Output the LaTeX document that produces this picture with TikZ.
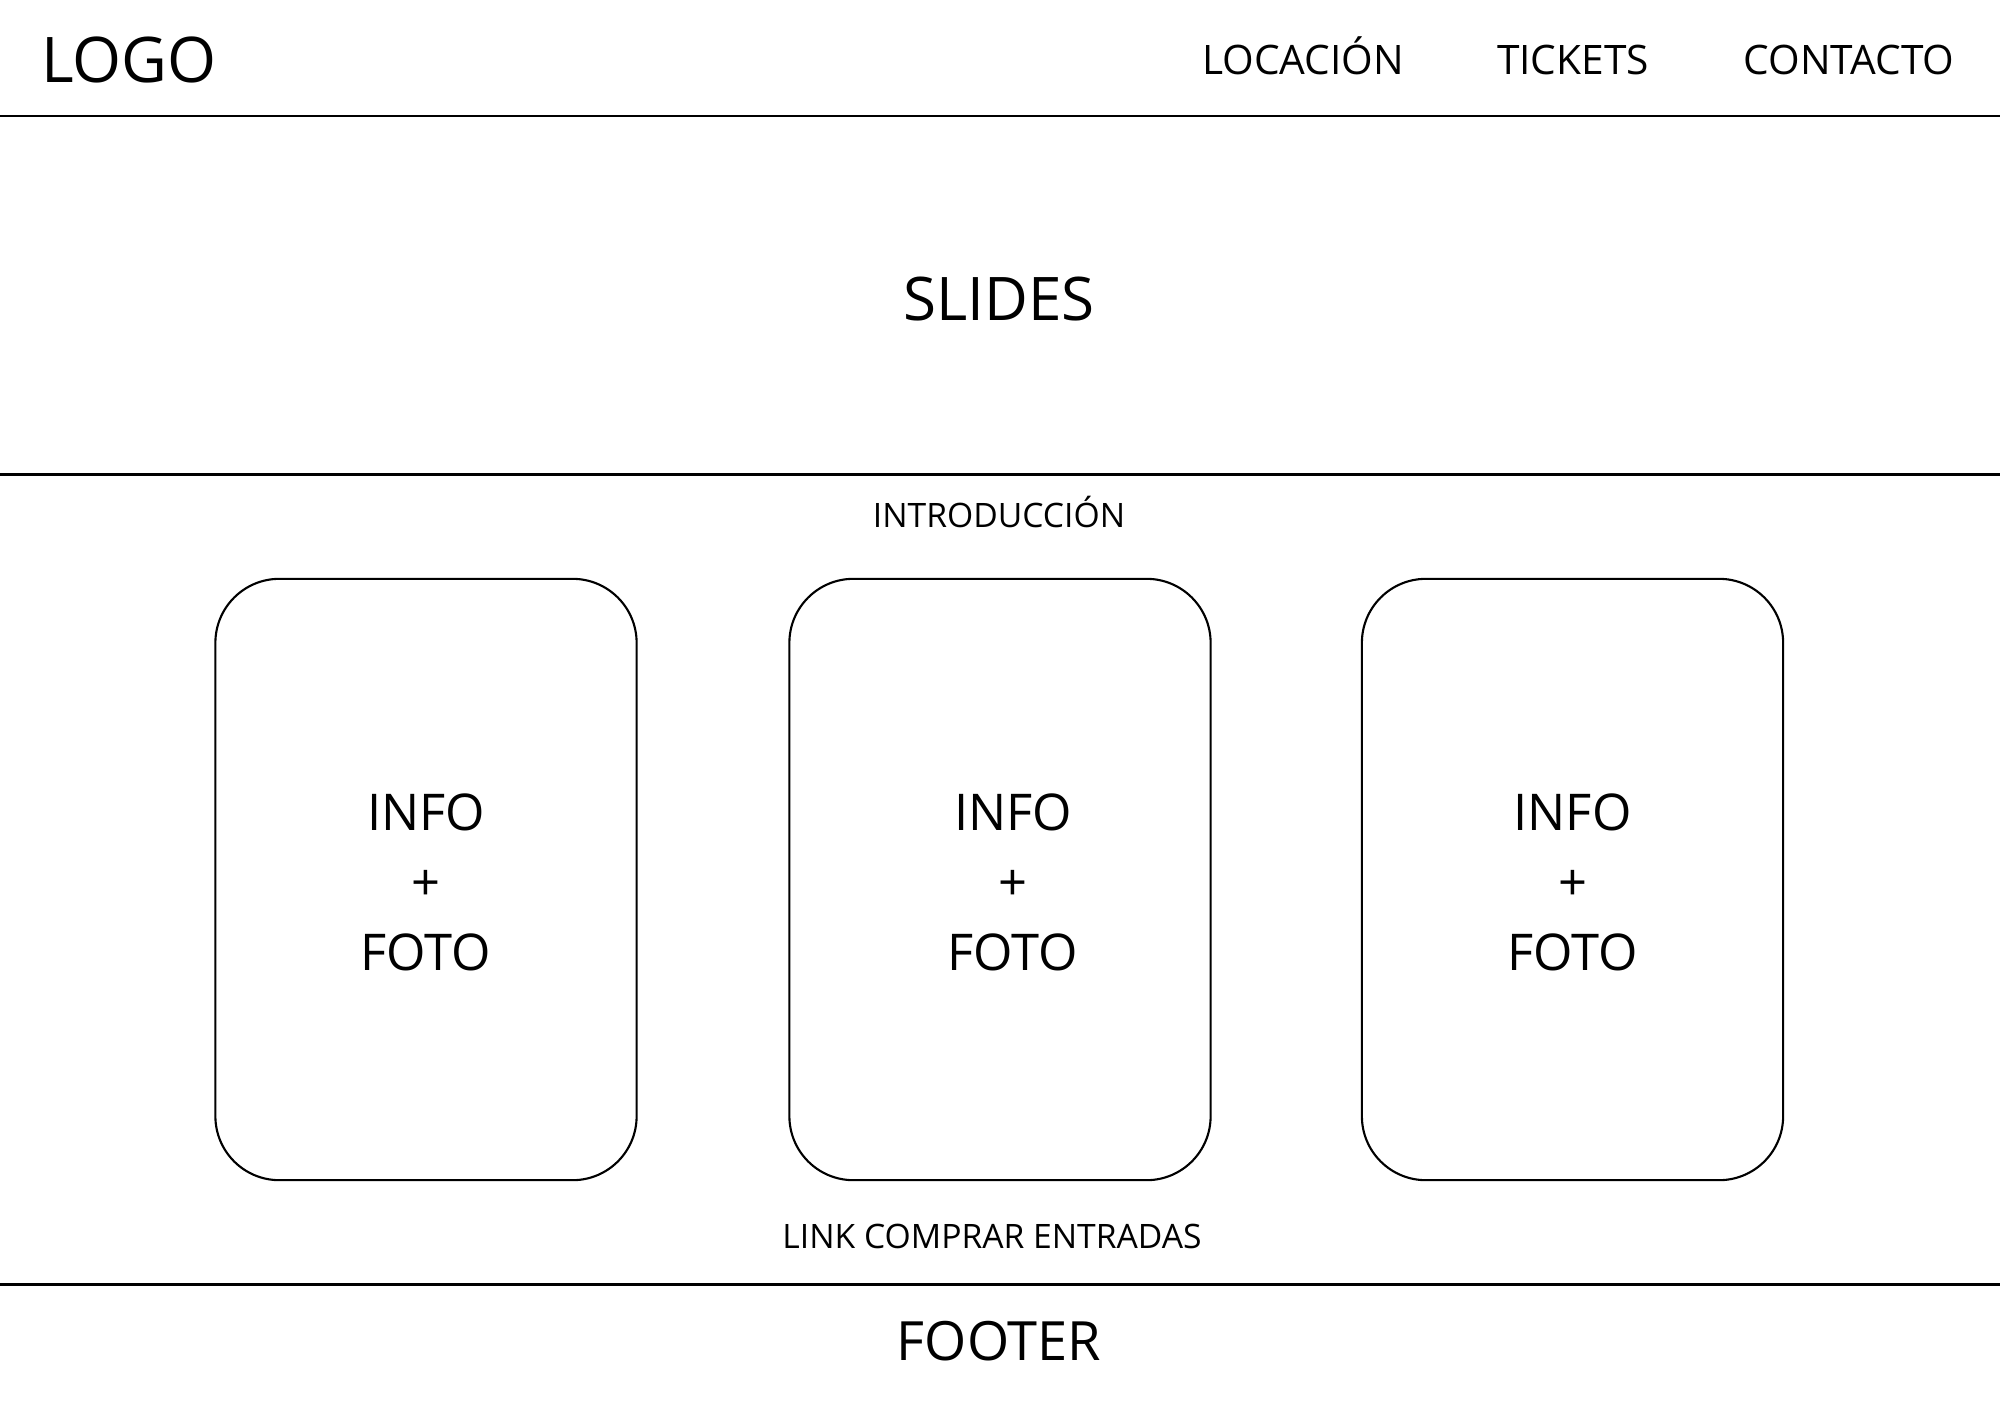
\documentclass[tikz,border=0pt]{standalone}
\usepackage{fontspec}
\setmainfont{Open Sans}
\usetikzlibrary{positioning}

\begin{document}
\begin{tikzpicture}[x=0.01cm, y=-0.01cm,
    divider/.style={line width=0.8pt},
    card/.style={draw, line width=0.6pt, rounded corners=0.64cm,
      minimum width=4.21cm, minimum height=6.01cm},
    logotext/.style={anchor=base, inner sep=0pt, font=\fontsize{17.9}{20}\selectfont},
    menutext/.style={anchor=base, inner sep=0pt, font=\fontsize{11.55}{13}\selectfont},
    titletext/.style={anchor=base, inner sep=0pt, font=\fontsize{17.1}{19}\selectfont},
    footertext/.style={anchor=base, inner sep=0pt, font=\fontsize{15.4}{18}\selectfont},
    smalltext/.style={anchor=base, inner sep=0pt, font=\fontsize{9.57}{11}\selectfont},
    cardtext/.style={inner sep=0pt, align=center, font=\fontsize{14.4}{19.9}\selectfont},
  ]
  \useasboundingbox (0,0) rectangle (2000,1415);

  % Cabecera
  \node [logotext] (logo) at (129,82) {LOGO};
  \node [menutext] (locacion) at (1303,74) {LOCACIÓN};
  \node [menutext] (tickets) at (1573,74) {TICKETS};
  \node [menutext] (contacto) at (1849,74) {CONTACTO};
  \draw [divider] (0,116) -- (2000,116);

  % Slides
  \node [titletext] (slides) at (999,320) {SLIDES};
  \draw [divider] (0,474.5) -- (2000,474.5);

  % Introduccion y tarjetas
  \node [smalltext] (intro) at (999,527) {INTRODUCCIÓN};
  \foreach \i/\x in {1/426, 2/1000, 3/1572.5}
    \node [card] (card\i) at (\x,879.5) {};
  \foreach \i/\dx in {1/0, 2/13, 3/0}
    \node [cardtext] (info\i) at ([xshift=\dx*0.01cm, yshift=-0.025cm]card\i.center) {INFO\\+\\FOTO};
  \node [smalltext] (link) at (992,1248) {LINK COMPRAR ENTRADAS};
  \draw [divider] (0,1284.5) -- (2000,1284.5);

  % Footer
  \node [footertext] (footer) at (999,1360.5) {FOOTER};

\end{tikzpicture}
\end{document}
